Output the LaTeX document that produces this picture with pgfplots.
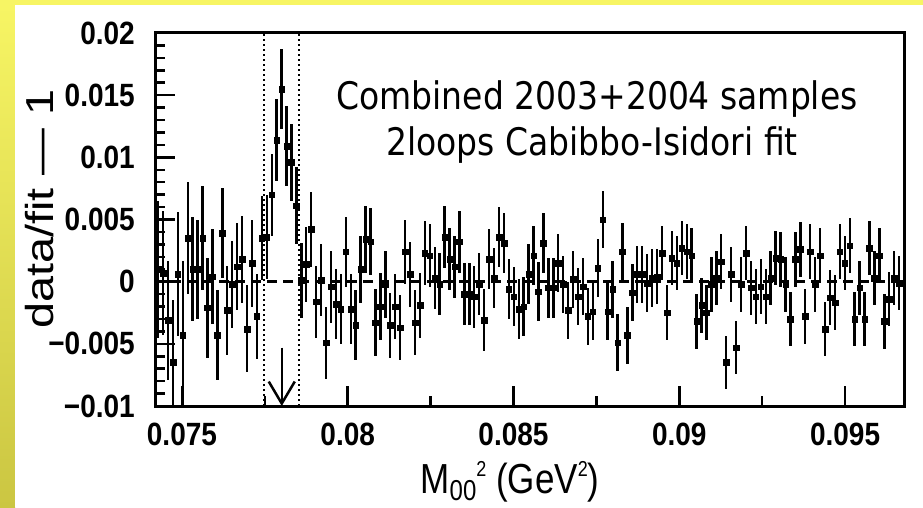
\documentclass[border=0pt]{standalone}
\usepackage{pgfplots}
\pgfplotsset{compat=1.18}
\usepackage{pgfplotstable}
\usepackage{graphicx}
\usepackage{fontspec}
\usetikzlibrary{arrows.meta}
\setmainfont{Liberation Sans}
\newfontfamily\notefont{DejaVu Sans}

\definecolor{slideyellow}{RGB}{247,245,100}
\definecolor{slideolive}{RGB}{203,198,66}

\newcommand{\tickfont}{\fontsize{28}{30}\selectfont\bfseries}
\newcommand{\tl}[1]{\scalebox{1}[1.15]{#1}}

% residuals of the 2003+2004 M00^2 spectrum with respect to the fit
\pgfplotstableread{
x y e
0.074280 0.0010 0.0055
0.074429 0.0007 0.0050
0.074578 -0.0031 0.0048
0.074727 -0.0065 0.0050
0.074876 0.0006 0.0050
0.075025 -0.0043 0.0060
0.075174 0.0035 0.0045
0.075323 0.0010 0.0042
0.075472 0.0010 0.0040
0.075621 0.0035 0.0042
0.075770 -0.0021 0.0040
0.075919 0.0004 0.0038
0.076068 -0.0043 0.0036
0.076217 0.0039 0.0036
0.076366 -0.0023 0.0036
0.076515 -0.0002 0.0035
0.076664 0.0012 0.0035
0.076813 0.0018 0.0035
0.076962 -0.0038 0.0035
0.077111 0.0015 0.0035
0.077260 -0.0028 0.0034
0.077409 0.0035 0.0034
0.077558 0.0036 0.0034
0.077707 0.0070 0.0033
0.077856 0.0114 0.0033
0.078005 0.0155 0.0032
0.078154 0.0109 0.0032
0.078303 0.0096 0.0031
0.078452 0.0061 0.0031
0.078601 0.0001 0.0030
0.078750 0.0014 0.0030
0.078899 0.0042 0.0030
0.079048 -0.0016 0.0029
0.079197 0.0001 0.0029
0.079346 -0.0049 0.0029
0.079495 -0.0004 0.0029
0.079644 -0.0018 0.0028
0.079793 -0.0022 0.0028
0.079942 0.0024 0.0028
0.080091 -0.0022 0.0028
0.080240 -0.0035 0.0028
0.080389 0.0010 0.0027
0.080538 0.0034 0.0027
0.080687 0.0032 0.0027
0.080836 -0.0033 0.0027
0.080985 -0.0020 0.0027
0.081134 -0.0002 0.0027
0.081283 -0.0035 0.0026
0.081432 -0.0020 0.0026
0.081581 -0.0037 0.0026
0.081730 0.0024 0.0026
0.081879 0.0006 0.0026
0.082028 -0.0033 0.0026
0.082177 -0.0019 0.0026
0.082326 0.0023 0.0026
0.082475 0.0021 0.0025
0.082624 0.0003 0.0025
0.082773 -0.0002 0.0025
0.082922 0.0036 0.0025
0.083071 0.0018 0.0025
0.083220 0.0012 0.0025
0.083369 0.0032 0.0025
0.083518 -0.0010 0.0025
0.083667 -0.0010 0.0025
0.083816 -0.0012 0.0025
0.083965 -0.0002 0.0025
0.084114 -0.0031 0.0025
0.084263 0.0018 0.0024
0.084412 0.0003 0.0024
0.084561 0.0036 0.0024
0.084710 0.0031 0.0024
0.084859 -0.0006 0.0024
0.085008 -0.0012 0.0024
0.085157 -0.0022 0.0024
0.085306 -0.0020 0.0024
0.085455 0.0006 0.0024
0.085604 0.0021 0.0024
0.085753 -0.0008 0.0024
0.085902 0.0031 0.0024
0.086051 -0.0005 0.0024
0.086200 -0.0005 0.0024
0.086349 0.0015 0.0023
0.086498 -0.0002 0.0023
0.086647 -0.0023 0.0023
0.086796 0.0002 0.0023
0.086945 -0.0012 0.0023
0.087094 -0.0004 0.0023
0.087243 -0.0028 0.0023
0.087392 -0.0024 0.0023
0.087541 0.0011 0.0023
0.087690 0.0050 0.0023
0.087839 -0.0024 0.0023
0.087988 -0.0006 0.0023
0.088137 -0.0049 0.0023
0.088286 0.0024 0.0023
0.088435 -0.0043 0.0023
0.088584 -0.0009 0.0023
0.088733 0.0006 0.0023
0.088882 0.0006 0.0023
0.089031 -0.0001 0.0023
0.089180 0.0003 0.0023
0.089329 0.0004 0.0022
0.089478 0.0023 0.0022
0.089627 -0.0025 0.0022
0.089776 0.0019 0.0022
0.089925 0.0015 0.0022
0.090074 0.0027 0.0022
0.090223 0.0024 0.0022
0.090372 0.0021 0.0022
0.090521 -0.0032 0.0022
0.090670 -0.0019 0.0022
0.090819 -0.0025 0.0022
0.090968 -0.0002 0.0022
0.091117 0.0003 0.0022
0.091266 0.0016 0.0022
0.091415 -0.0065 0.0021
0.091564 0.0006 0.0022
0.091713 -0.0053 0.0021
0.091862 -0.0002 0.0022
0.092011 0.0023 0.0022
0.092160 -0.0005 0.0022
0.092309 -0.0012 0.0022
0.092458 -0.0004 0.0022
0.092607 -0.0012 0.0022
0.092756 0.0003 0.0022
0.092905 0.0019 0.0022
0.093054 0.0018 0.0022
0.093203 -0.0002 0.0022
0.093352 -0.0030 0.0022
0.093501 0.0018 0.0022
0.093650 0.0026 0.0022
0.093799 -0.0028 0.0022
0.093948 0.0024 0.0022
0.094097 -0.0002 0.0022
0.094246 0.0021 0.0022
0.094395 -0.0038 0.0022
0.094544 -0.0013 0.0022
0.094693 -0.0017 0.0022
0.094842 0.0024 0.0022
0.094991 0.0015 0.0022
0.095140 0.0029 0.0022
0.095289 -0.0030 0.0022
0.095438 -0.0005 0.0022
0.095587 -0.0030 0.0022
0.095736 0.0027 0.0022
0.095885 0.0003 0.0022
0.096034 0.0021 0.0022
0.096183 -0.0032 0.0022
0.096332 -0.0014 0.0022
0.096481 0.0003 0.0022
0.096630 -0.0001 0.0022
}\residuals

\begin{document}
\begin{tikzpicture}[x=1pt,y=1pt]
% slide background
\path[use as bounding box] (0,0) rectangle (923,507);
\fill[slideyellow] (0,0) rectangle (923,507);
\shade[top color=slideyellow, bottom color=slideolive] (0,0) rectangle (15,502);
\fill[white] (15,0) rectangle (923,502);

\begin{axis}[
  at={(155pt,101pt)}, anchor=south west,
  scale only axis, width=749pt, height=373pt,
  xmin=0.074187, xmax=0.096777, ymin=-0.01, ymax=0.02,
  scaled ticks=false,
  axis line style={line width=3pt},
  xtick={0.075,0.08,0.085,0.09,0.095},
  xticklabels={\tl{0.075},\tl{0.08},\tl{0.085},\tl{0.09},\tl{0.095}},
  minor xtick={0.0775,0.0825,0.0875,0.0925},
  ytick={-0.01,-0.005,0,0.005,0.01,0.015,0.02},
  yticklabels={\tl{−0.01},\tl{−0.005},\tl{0},\tl{0.005},\tl{0.01},\tl{0.015},\tl{0.02}},
  minor ytick={-0.009,-0.008,-0.007,-0.006,-0.004,-0.003,-0.002,-0.001,
               0.001,0.002,0.003,0.004,0.006,0.007,0.008,0.009,
               0.011,0.012,0.013,0.014,0.016,0.017,0.018,0.019},
  xtick pos=left, ytick pos=left,
  tick align=inside,
  major tick length=20pt, minor tick length=10pt,
  every tick/.style={line width=2.5pt, black},
  xticklabel style={font=\tickfont, inner sep=0pt, anchor=north, yshift=-17pt},
  yticklabel style={font=\tickfont, inner sep=0pt, anchor=east, xshift=-20pt},
]
% fit window boundaries
\addplot[black, line width=2pt, dash pattern=on 2pt off 3pt] coordinates {(0.07747,-0.01) (0.07747,0.02)};
\addplot[black, line width=2pt, dash pattern=on 2pt off 3pt] coordinates {(0.07852,-0.01) (0.07852,0.02)};
% fit reference
\addplot[black, line width=2.5pt, dash pattern=on 10pt off 6pt] coordinates {(0.074187,0) (0.096777,0)};
% data/fit - 1 with statistical errors
\addplot[black, only marks, mark=square*, mark size=2.8pt,
  error bars/.cd, y dir=both, y explicit, error mark=none,
  error bar style={line width=2.4pt, black}]
  table[x=x, y=y, y error=e] {\residuals};
% cusp position
\draw[black, line width=2.5pt, -{Straight Barb[length=22pt, width=26pt, line width=2.5pt]}]
  (axis cs:0.07801,-0.0053) -- (axis cs:0.07801,-0.01);
\end{axis}

% axis titles
\node[anchor=base, inner sep=0pt] at (510,14)
  {\scalebox{1}[1.2]{\fontsize{35}{40}\selectfont M\raisebox{-6pt}{\fontsize{24}{24}\selectfont 00}\raisebox{14pt}{\fontsize{18}{18}\selectfont 2} (GeV\raisebox{14pt}{\fontsize{18}{18}\selectfont 2})}};
\node[anchor=base, rotate=90, inner sep=0pt] at (53,298)
  {\scalebox{1.2}[1]{\fontsize{39}{44}\selectfont data/fit — 1}};

% sample description
\node[anchor=base, inner sep=0pt] at (597,397)
  {\scalebox{1}[1.15]{\notefont\fontsize{33}{38}\selectfont Combined 2003+2004 samples}};
\node[anchor=base, inner sep=0pt] at (592,352)
  {\scalebox{1}[1.15]{\notefont\fontsize{33}{38}\selectfont 2loops Cabibbo-Isidori fit}};
\end{tikzpicture}
\end{document}
